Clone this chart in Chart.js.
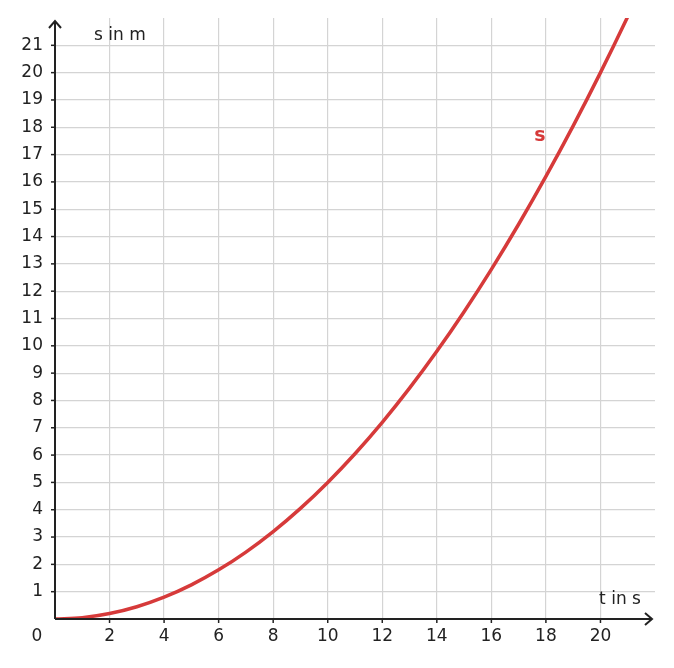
<!DOCTYPE html>
<html><head><meta charset="utf-8">
<script src="https://cdn.jsdelivr.net/npm/chart.js@4/dist/chart.umd.min.js"></script>
<style>html,body{margin:0;padding:0;background:#fff}#w{width:674px;height:668px}</style>
</head><body><div id="w"><canvas id="c"></canvas></div>
<script>
const tValues=[0,1,2,3,4,5,6,7,8,9,10,11,12,13,14,15,16,17,18,19,20,21,22];
const sValues=[0,0.05,0.2,0.45,0.8,1.25,1.8,2.45,3.2,4.05,5,6.05,7.2,8.45,9.8,11.25,12.8,14.45,16.2,18.05,20,22.05,24.2];
const xTickLabels=[2,4,6,8,10,12,14,16,18,20];
const yTickLabels=[1,2,3,4,5,6,7,8,9,10,11,12,13,14,15,16,17,18,19,20,21];
const FONT='17px "DejaVu Sans"';
const ink='#222';
const overlay={id:'overlay',afterDraw(ch){
  const c=ch.ctx,x=ch.scales.x,y=ch.scales.y,a=ch.chartArea;
  const x0=x.getPixelForValue(0),y0=y.getPixelForValue(0);
  c.save();c.strokeStyle=ink;c.fillStyle=ink;c.lineWidth=2;
  c.beginPath();c.moveTo(x0,y0);c.lineTo(a.right-4,y0);c.moveTo(x0,y0);c.lineTo(x0,a.top+4);c.stroke();
  c.beginPath();c.moveTo(a.right-10,y0-6);c.lineTo(a.right-3,y0);c.lineTo(a.right-10,y0+6);c.stroke();
  c.beginPath();c.moveTo(x0-6,a.top+10);c.lineTo(x0,a.top+3);c.lineTo(x0+6,a.top+10);c.stroke();
  c.font=FONT;c.lineWidth=1.5;
  c.textAlign='right';c.textBaseline='middle';
  yTickLabels.forEach(v=>{const p=y.getPixelForValue(v);c.beginPath();c.moveTo(x0-4,p);c.lineTo(x0,p);c.stroke();c.fillText(String(v),x0-12,p);});
  c.textAlign='center';c.textBaseline='top';
  xTickLabels.forEach(v=>{const p=x.getPixelForValue(v);c.beginPath();c.moveTo(p,y0);c.lineTo(p,y0+4);c.stroke();c.fillText(String(v),p,y0+9);});
  c.fillText('0',37,y0+9);
  c.textAlign='left';c.textBaseline='middle';c.fillText('s in m',94,36);
  c.textAlign='center';c.fillText('t in s',620,600);
  c.fillStyle='#d63a3a';c.font='bold 19px "DejaVu Sans"';c.fillText('s',540,136);
  c.restore();}};
new Chart(document.getElementById('c'),{type:'line',
 data:{datasets:[{data:tValues.map((t,i)=>({x:t,y:sValues[i]})),borderColor:'#d63a3a',borderWidth:3.5,pointRadius:0,cubicInterpolationMode:'monotone',clip:0}]},
 options:{responsive:true,maintainAspectRatio:false,animation:false,
  layout:{padding:{left:55,right:19,top:18,bottom:49}},
  plugins:{legend:{display:false},tooltip:{enabled:false}},
  scales:{
   x:{type:'linear',min:0,max:22,ticks:{display:false,stepSize:2},border:{display:false},grid:{drawTicks:false,lineWidth:1.2,color:c=>(c.tick&&(c.tick.value===0||c.tick.value===22))?'rgba(0,0,0,0)':'#d4d4d4'}},
   y:{type:'linear',min:0,max:22,ticks:{display:false,stepSize:1},border:{display:false},grid:{drawTicks:false,lineWidth:1.2,color:c=>(c.tick&&(c.tick.value===0||c.tick.value===22))?'rgba(0,0,0,0)':'#d4d4d4'}}
  }},plugins:[overlay]});
</script></body></html>
